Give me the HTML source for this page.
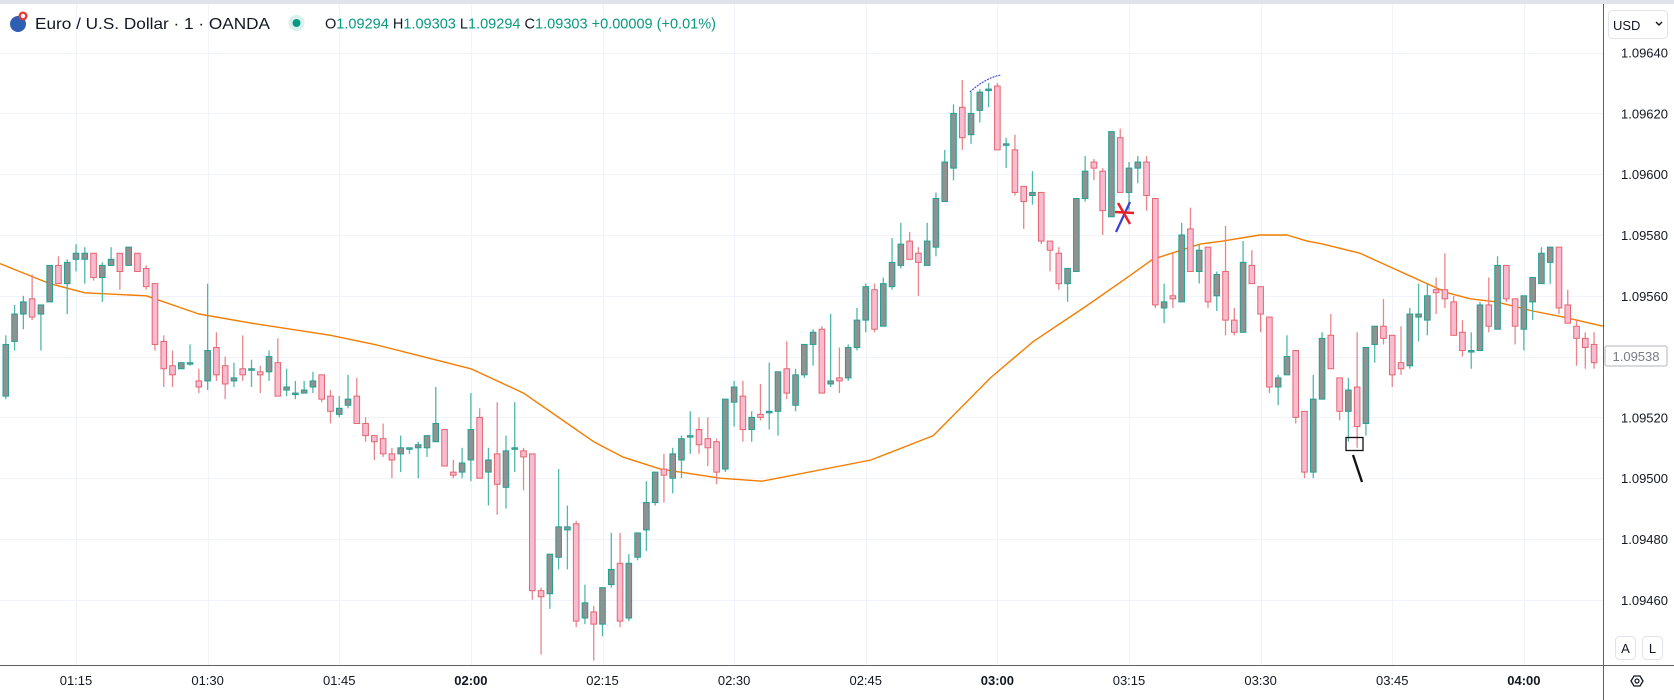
<!DOCTYPE html>
<html><head><meta charset="utf-8"><style>
html,body{margin:0;padding:0;background:#fff;width:1674px;height:700px;overflow:hidden;font-family:"Liberation Sans",sans-serif}
svg text{font-family:"Liberation Sans",sans-serif}
</style></head><body>
<svg id="chart" width="1674" height="700" viewBox="0 0 1674 700" xmlns="http://www.w3.org/2000/svg">
<rect x="0" y="0" width="1674" height="700" fill="#fff"/>
<rect x="0" y="0" width="1674" height="4" fill="#e0e3eb"/>
<g id="grid"></g>
<g id="ma"></g>
<g id="candles"></g>
<g>
<path d="M 970 92 Q 985 78 1001 75" fill="none" stroke="#3f51d6" stroke-width="1.2" stroke-dasharray="2,1"/>
<line x1="1116" y1="232" x2="1130" y2="202" stroke="#3a3fd0" stroke-width="2.2"/>
<line x1="1115" y1="212" x2="1134" y2="213" stroke="#e8202a" stroke-width="2.5"/>
<line x1="1118" y1="203" x2="1130" y2="224" stroke="#e8202a" stroke-width="2.5"/>
<rect x="1346" y="437.5" width="17" height="13" fill="none" stroke="#111" stroke-width="1.3"/>
<line x1="1353" y1="455" x2="1362" y2="482" stroke="#111" stroke-width="2.3"/>
</g>
<line x1="1603.5" y1="4" x2="1603.5" y2="700" stroke="#5d606b" stroke-width="1"/>
<line x1="0" y1="665.5" x2="1674" y2="665.5" stroke="#5d606b" stroke-width="1"/>
<g id="yaxis"></g>
<g id="xaxis"></g>
<g>
<rect x="1605" y="346" width="62" height="20" rx="2" fill="#fff" stroke="#b2b5be"/>
<text x="1636" y="361" text-anchor="middle" font-size="13" fill="#787b86">1.09538</text>
</g>
<g>
<rect x="1608.5" y="10.5" width="59" height="28" rx="4" fill="#fff" stroke="#e0e3eb"/>
<text x="1613" y="30" font-size="13" fill="#131722">USD</text>
<path d="M1656 22 l3 3 l3 -3" fill="none" stroke="#131722" stroke-width="1.4"/>
</g>
<g>
<rect x="1615.5" y="636.5" width="20" height="23" rx="4" fill="#fff" stroke="#e0e3eb"/>
<text x="1625.5" y="653" text-anchor="middle" font-size="13" fill="#131722">A</text>
</g>
<g>
<rect x="1642.5" y="636.5" width="20" height="23" rx="4" fill="#fff" stroke="#e0e3eb"/>
<text x="1652.5" y="653" text-anchor="middle" font-size="13" fill="#131722">L</text>
</g>
<g>
<polygon points="1631,681 1634,676 1640,676 1643,681 1640,686 1634,686" fill="none" stroke="#131722" stroke-width="1.3"/>
<circle cx="1637" cy="681" r="2" fill="none" stroke="#131722" stroke-width="1.2"/>
</g>
<g>
<g>
<circle cx="18" cy="24" r="8" fill="#2f5fb3"/><circle cx="23" cy="16" r="4.5" fill="#e53935"/><circle cx="23" cy="16" r="2.2" fill="#fff"/>
</g>
<text x="35" y="29" font-size="16" fill="#131722" textLength="235" lengthAdjust="spacingAndGlyphs">Euro / U.S. Dollar · 1 · OANDA</text>
<circle cx="296.5" cy="23" r="8" fill="#d9f0ec"/>
<circle cx="296.5" cy="23" r="4" fill="#089981"/>
<text x="325" y="28.5" font-size="15" fill="#089981" textLength="391" lengthAdjust="spacingAndGlyphs"><tspan fill="#131722">O</tspan>1.09294 <tspan fill="#131722">H</tspan>1.09303 <tspan fill="#131722">L</tspan>1.09294 <tspan fill="#131722">C</tspan>1.09303 +0.00009 (+0.01%)</text>
</g>
</svg>
<script>
const opens=[1.09527,1.09545,1.09554,1.09559,1.09554,1.09558,1.09570,1.09564,1.09572,1.09572,
1.09574,1.09566,1.09570,1.09574,1.09570,1.09574,1.09569,1.09564,1.09545,1.09537,
1.09536,1.09538,1.09532,1.09532,1.09543,1.09537,1.09532,1.09536,1.09536,1.09535,
1.09535,1.09538,1.09529,1.09528,1.09528,1.09530,1.09534,1.09527,1.09521,1.09524,
1.09527,1.09518,1.09514,1.09513,1.09508,1.09508,1.09510,1.09510,1.09510,1.09512,
1.09516,1.09502,1.09502,1.09506,1.09520,1.09502,1.09508,1.09497,1.09510,1.09509,
1.09508,1.09463,1.09462,1.09474,1.09483,1.09485,1.09454,1.09456,1.09452,1.09465,
1.09472,1.09454,1.09474,1.09483,1.09492,1.09503,1.09500,1.09506,1.09514,1.09516,
1.09513,1.09512,1.09503,1.09525,1.09527,1.09516,1.09521,1.09522,1.09522,1.09536,
1.09524,1.09534,1.09544,1.09549,1.09531,1.09533,1.09533,1.09543,1.09552,1.09562,
1.09550,1.09563,1.09570,1.09578,1.09574,1.09570,1.09576,1.09591,1.09602,1.09622,
1.09613,1.09621,1.09628,1.09629,1.09610,1.09608,1.09596,1.09593,1.09594,1.09578,
1.09574,1.09564,1.09568,1.09592,1.09604,1.09601,1.09586,1.09612,1.09594,1.09602,
1.09604,1.09592,1.09556,1.09560,1.09558,1.09582,1.09568,1.09576,1.09560,1.09568,
1.09552,1.09548,1.09570,1.09563,1.09553,1.09530,1.09534,1.09542,1.09522,1.09502,
1.09526,1.09547,1.09533,1.09522,1.09530,1.09518,1.09544,1.09550,1.09547,1.09538,
1.09537,1.09553,1.09552,1.09562,1.09562,1.09558,1.09548,1.09542,1.09542,1.09557,
1.09549,1.09570,1.09559,1.09549,1.09558,1.09564,1.09571,1.09576,1.09557,1.09550,
1.09546,1.09544];
const highs=[1.09547,1.09557,1.09560,1.09567,1.09557,1.09570,1.09573,1.09572,1.09577,1.09576,
1.09574,1.09571,1.09576,1.09574,1.09576,1.09574,1.09570,1.09564,1.09547,1.09542,
1.09538,1.09544,1.09536,1.09564,1.09548,1.09540,1.09538,1.09547,1.09539,1.09537,
1.09542,1.09546,1.09536,1.09532,1.09532,1.09535,1.09534,1.09529,1.09527,1.09534,
1.09533,1.09520,1.09514,1.09518,1.09510,1.09514,1.09510,1.09512,1.09514,1.09530,
1.09516,1.09506,1.09510,1.09528,1.09523,1.09510,1.09525,1.09514,1.09525,1.09510,
1.09508,1.09464,1.09475,1.09503,1.09491,1.09486,1.09465,1.09458,1.09464,1.09482,
1.09482,1.09475,1.09482,1.09499,1.09502,1.09508,1.09510,1.09514,1.09522,1.09520,
1.09520,1.09513,1.09526,1.09532,1.09532,1.09522,1.09531,1.09538,1.09535,1.09545,
1.09536,1.09544,1.09549,1.09550,1.09554,1.09543,1.09544,1.09556,1.09564,1.09564,
1.09566,1.09579,1.09584,1.09581,1.09576,1.09584,1.09594,1.09608,1.09623,1.09631,
1.09627,1.09628,1.09630,1.09630,1.09612,1.09613,1.09596,1.09601,1.09594,1.09578,
1.09576,1.09569,1.09592,1.09606,1.09605,1.09602,1.09614,1.09615,1.09604,1.09606,
1.09606,1.09592,1.09564,1.09574,1.09584,1.09589,1.09577,1.09576,1.09568,1.09583,
1.09556,1.09578,1.09575,1.09563,1.09553,1.09534,1.09547,1.09542,1.09522,1.09534,
1.09548,1.09554,1.09533,1.09533,1.09548,1.09543,1.09550,1.09559,1.09547,1.09550,
1.09556,1.09564,1.09564,1.09566,1.09574,1.09560,1.09552,1.09548,1.09558,1.09566,
1.09573,1.09570,1.09559,1.09560,1.09566,1.09576,1.09576,1.09576,1.09562,1.09552,
1.09548,1.09548];
const lows=[1.09526,1.09542,1.09549,1.09552,1.09542,1.09558,1.09564,1.09554,1.09568,1.09564,
1.09565,1.09558,1.09570,1.09562,1.09570,1.09568,1.09562,1.09542,1.09530,1.09530,
1.09536,1.09537,1.09528,1.09529,1.09532,1.09526,1.09530,1.09532,1.09530,1.09528,
1.09532,1.09527,1.09527,1.09526,1.09528,1.09528,1.09525,1.09518,1.09520,1.09523,
1.09518,1.09512,1.09506,1.09507,1.09500,1.09502,1.09508,1.09500,1.09507,1.09512,
1.09504,1.09500,1.09500,1.09499,1.09500,1.09491,1.09488,1.09490,1.09502,1.09496,
1.09460,1.09442,1.09457,1.09470,1.09470,1.09451,1.09452,1.09440,1.09448,1.09464,
1.09451,1.09453,1.09473,1.09476,1.09491,1.09492,1.09495,1.09500,1.09508,1.09508,
1.09504,1.09498,1.09502,1.09517,1.09512,1.09512,1.09519,1.09516,1.09514,1.09526,
1.09522,1.09533,1.09537,1.09528,1.09530,1.09528,1.09532,1.09542,1.09548,1.09548,
1.09550,1.09562,1.09569,1.09572,1.09560,1.09570,1.09573,1.09591,1.09598,1.09608,
1.09610,1.09617,1.09622,1.09608,1.09602,1.09593,1.09582,1.09590,1.09577,1.09568,
1.09562,1.09558,1.09568,1.09591,1.09598,1.09580,1.09586,1.09594,1.09588,1.09597,
1.09588,1.09556,1.09551,1.09556,1.09558,1.09568,1.09564,1.09556,1.09555,1.09547,
1.09547,1.09548,1.09564,1.09548,1.09528,1.09524,1.09534,1.09518,1.09500,1.09500,
1.09526,1.09536,1.09519,1.09512,1.09510,1.09514,1.09538,1.09544,1.09530,1.09534,
1.09536,1.09545,1.09547,1.09554,1.09556,1.09547,1.09540,1.09536,1.09542,1.09548,
1.09549,1.09558,1.09544,1.09542,1.09552,1.09564,1.09564,1.09554,1.09551,1.09537,
1.09536,1.09536];
const closes=[1.09544,1.09554,1.09558,1.09553,1.09557,1.09570,1.09564,1.09571,1.09574,1.09574,
1.09566,1.09570,1.09572,1.09568,1.09576,1.09568,1.09563,1.09544,1.09536,1.09534,
1.09538,1.09538,1.09530,1.09542,1.09534,1.09531,1.09533,1.09534,1.09536,1.09534,
1.09540,1.09527,1.09530,1.09528,1.09529,1.09532,1.09526,1.09522,1.09523,1.09526,
1.09518,1.09514,1.09512,1.09508,1.09506,1.09510,1.09510,1.09511,1.09514,1.09518,
1.09504,1.09501,1.09505,1.09516,1.09500,1.09506,1.09498,1.09509,1.09510,1.09507,
1.09463,1.09461,1.09475,1.09484,1.09484,1.09453,1.09459,1.09452,1.09464,1.09470,
1.09453,1.09472,1.09482,1.09492,1.09502,1.09501,1.09508,1.09513,1.09514,1.09511,
1.09510,1.09502,1.09526,1.09530,1.09516,1.09520,1.09520,1.09522,1.09535,1.09528,
1.09534,1.09544,1.09548,1.09528,1.09532,1.09532,1.09543,1.09552,1.09563,1.09549,
1.09564,1.09571,1.09577,1.09572,1.09571,1.09578,1.09592,1.09604,1.09620,1.09612,
1.09620,1.09627,1.09628,1.09608,1.09610,1.09594,1.09591,1.09594,1.09578,1.09575,
1.09564,1.09569,1.09592,1.09601,1.09602,1.09588,1.09614,1.09594,1.09602,1.09604,
1.09593,1.09557,1.09558,1.09559,1.09580,1.09568,1.09575,1.09558,1.09567,1.09552,
1.09548,1.09571,1.09564,1.09554,1.09530,1.09533,1.09540,1.09520,1.09502,1.09526,
1.09546,1.09536,1.09522,1.09529,1.09517,1.09543,1.09550,1.09546,1.09534,1.09536,
1.09554,1.09554,1.09560,1.09561,1.09559,1.09547,1.09542,1.09542,1.09557,1.09550,
1.09570,1.09559,1.09550,1.09560,1.09566,1.09574,1.09576,1.09556,1.09551,1.09546,
1.09543,1.09538];
const maIndex=[-1,5,9,16,22,28,37,42,47.5,53,57.5,59,64,67,70.3,74.6,81.4,86.2,98.6,105.7,112.2,117.1,122.8,127.8,130.7,136.1,138.7,142.9,146,148.3,150.1,154.3,156.6,161.2,164.3,166.9,169.9,174,177.5,182];
const maValues=[1.09571,1.09564,1.09561,1.09560,1.09554,1.09551,1.09547,1.09544,1.09540,1.09536,1.09530,1.09528,1.09518,1.09512,1.09507,1.09503,1.09500,1.09499,1.09506,1.09514,1.09533,1.09545,1.09556,1.09566,1.09572,1.09577,1.09578,1.09580,1.09580,1.09578,1.09577,1.09574,1.09571,1.09565,1.09561,1.09559,1.09558,1.09555,1.09553,1.09550];
const priceTicks=[1.0964,1.0962,1.096,1.0958,1.0956,1.0954,1.0952,1.095,1.0948,1.0946];
const timeTicks=["01:15","01:30","01:45","02:00","02:15","02:30","02:45","03:00","03:15","03:30","03:45","04:00"];
const timeTickIndex=[8,23,38,53,68,83,98,113,128,143,158,173];
const boldTicks=["02:00","03:00","04:00"];

const NS="http://www.w3.org/2000/svg";
const PLOT_R=1603, PLOT_B=665;
function xs(i){return 76+8.775*(i-8);}
function ys(p){return 235-(p-1.0958)/0.00001*3.04;}
function mk(tag,attrs,parent){const e=document.createElementNS(NS,tag);for(const k in attrs)e.setAttribute(k,attrs[k]);parent.appendChild(e);return e;}

const grid=document.getElementById('grid');
priceTicks.forEach(p=>{const y=Math.round(ys(p))+0.5;if(y>PLOT_B)return;
 const l=mk('line',{x1:0,x2:PLOT_R,y1:y,y2:y,stroke:'#f0f3fa','stroke-width':1},grid);
 
 });
timeTickIndex.forEach(i=>{const x=Math.round(xs(i))+0.5;
 const l=mk('line',{x1:x,x2:x,y1:4,y2:PLOT_B,stroke:'#f0f3fa','stroke-width':1},grid);
 
 });

const yax=document.getElementById('yaxis');
priceTicks.forEach(p=>{const y=ys(p);if(y<40||y>PLOT_B-8)return;
 if(Math.abs(y-356)<12)return;
 const t=mk('text',{x:1621,y:y+5,'font-size':13,fill:'#131722'},yax);t.textContent=p.toFixed(5);
 
 });
const xax=document.getElementById('xaxis');
timeTicks.forEach((s,k)=>{const t=mk('text',{x:xs(timeTickIndex[k]),y:685,'font-size':13,'text-anchor':'middle',fill:'#131722','font-weight':boldTicks.includes(s)?'bold':'normal'},xax);t.textContent=s;
 
 });

const ma=document.getElementById('ma');
let d='';maIndex.forEach((i,k)=>{d+=(k?'L':'M')+xs(i).toFixed(1)+' '+ys(maValues[k]).toFixed(1)+' ';});
const mp=mk('path',{d:d,fill:'none',stroke:'#f57c00','stroke-width':1.4,'stroke-linejoin':'round'},ma);



const cg=document.getElementById('candles');
opens.forEach((o,i)=>{const c=closes[i],h=highs[i],l=lows[i];const up=c>=o;const x=xs(i);
 const g=mk('g',{},cg);
 
 
 const wick=up?'#4fb8aa':'#e8868c';
 mk('line',{x1:x,x2:x,y1:ys(h),y2:ys(l),stroke:wick,'stroke-width':1.3},g);
 const top=ys(Math.max(o,c)),bot=ys(Math.min(o,c));
 let hgt=bot-top; if(hgt<1){hgt=1.5;}
 mk('rect',{x:x-2.8,y:top,width:5.6,height:hgt,fill:up?'#919191':'#f8bbd0',stroke:up?'#22a091':'#e36671','stroke-width':1},g);
});
</script>
</body></html>
